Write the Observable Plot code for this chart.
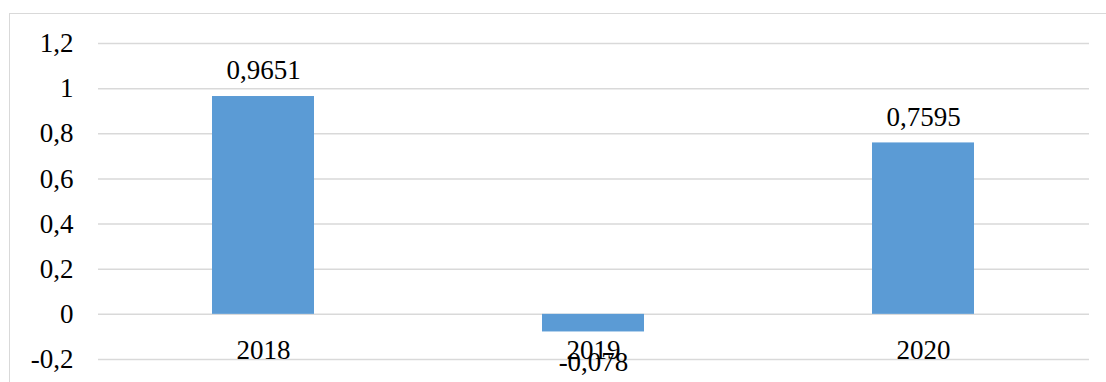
<!DOCTYPE html>
<html>
<head>
<meta charset="utf-8">
<script src="https://cdn.jsdelivr.net/npm/d3@7"></script>
<script src="https://cdn.jsdelivr.net/npm/@observablehq/plot@0.6"></script>
<style>
  html, body { margin: 0; padding: 0; background: #fff; overflow: hidden; }
  #wrap { position: relative; width: 1106px; height: 382px; }
  #box {
    position: absolute; left: 9px; top: 13px; width: 1110px; height: 400px;
    border: 1.5px solid #d9d9d9; box-sizing: border-box; pointer-events: none;
  }
  #chart { position: absolute; left: 0; top: 0; }
</style>
</head>
<body>
<div id="wrap"><div id="chart"></div><div id="box"></div></div>
<script>
// Yearly values
const years = ["2018", "2019", "2020"];
const values = [0.9651, -0.078, 0.7595];

// Y axis ticks and their labels (decimal comma)
const yTicks = [-0.2, 0, 0.2, 0.4, 0.6, 0.8, 1, 1.2];
const yTickLabels = ["-0,2", "0", "0,2", "0,4", "0,6", "0,8", "1", "1,2"];

const data = years.map((year, i) => ({year, value: values[i]}));
const fmt = v => String(v).replace(".", ",");
const font = "'Liberation Serif', 'Times New Roman', serif";

const chart = Plot.plot({
  width: 1106,
  height: 382,
  marginLeft: 98,
  marginRight: 17,
  marginTop: 43,
  marginBottom: 23,
  style: {fontFamily: font, fontSize: "27px", color: "#000", background: "transparent"},
  x: {domain: years, paddingInner: 0.69, paddingOuter: 0.345, axis: null},
  y: {
    domain: [-0.2, 1.2],
    ticks: yTicks,
    tickFormat: d => yTickLabels[yTicks.findIndex(t => Math.abs(t - d) < 1e-9)],
    tickSize: 0,
    tickPadding: 25,
    label: null,
    grid: false
  },
  marks: [
    Plot.ruleY(yTicks, {stroke: "#d9d9d9", strokeWidth: 1.5, strokeOpacity: 1}),
    Plot.barY(data, {x: "year", y: "value", fill: "#5b9bd5"}),
    // value labels above positive bars, below negative ones
    Plot.text(data.filter(d => d.value >= 0), {
      x: "year", y: "value", text: d => fmt(d.value), dy: -26, fill: "#000"
    }),
    Plot.text(data.filter(d => d.value < 0), {
      x: "year", y: "value", text: d => fmt(d.value), dy: 30, fill: "#000"
    }),
    // category labels sitting on the bottom gridline
    Plot.text(years, {x: d => d, y: () => -0.2, text: d => d, dy: -9, fill: "#000"})
  ]
});
document.getElementById("chart").appendChild(chart);
</script>
</body>
</html>
